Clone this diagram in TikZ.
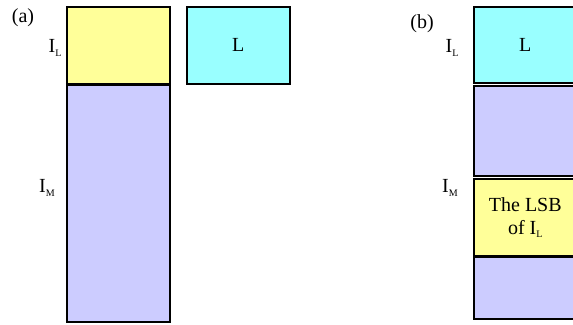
\documentclass[tikz,border=0pt]{standalone}
\usepackage{fontspec}
\setmainfont{Liberation Serif}
\usetikzlibrary{positioning}
\definecolor{memyellow}{HTML}{FFFF99}
\definecolor{memcyan}{HTML}{99FFFF}
\definecolor{mempurple}{HTML}{CCCCFF}
\newcommand{\idx}[1]{I\raisebox{-0.35ex}{\fontsize{10}{10}\selectfont #1}}
\tikzset{
  block/.style={draw=black, line width=1.6pt, inner sep=0pt, minimum width=103pt,
    anchor=north west, font=\fontsize{20}{23}\selectfont, align=center},
  tag/.style={inner sep=0pt, font=\fontsize{20}{23}\selectfont}
}
\begin{document}
\begin{tikzpicture}[x=1pt,y=-1pt]
  \useasboundingbox (0,0) rectangle (573,324);
  \clip (0,0) rectangle (573,324);
  % (a)
  \node[tag] (taga) at (23,18) {(a)};
  \node[block, fill=memyellow, minimum height=77pt] (ayellow) at (66,6) {};
  \node[block, fill=mempurple, minimum height=237pt] (apurple) at (66,84) {};
  \node[block, fill=memcyan, minimum height=77pt] (acyan) at (186,6) {L};
  \node[tag] (ail) at (55,48) {\idx{L}};
  \node[tag] (aim) at (47,188) {\idx{M}};
  % (b)
  \node[tag] (tagb) at (422,24) {(b)};
  \node[block, fill=memcyan, minimum height=76pt] (bcyan) at (473,6) {L};
  \node[block, fill=mempurple, minimum height=90pt] (bupper) at (473,85) {};
  \node[block, fill=memyellow, minimum height=77pt] (byellow) at (473,178) {The LSB\\of \idx{L}};
  \node[block, fill=mempurple, minimum height=62pt] (blower) at (473,256) {};
  \node[tag] (bil) at (452,48) {\idx{L}};
  \node[tag] (bim) at (450,188) {\idx{M}};
\end{tikzpicture}
\end{document}
